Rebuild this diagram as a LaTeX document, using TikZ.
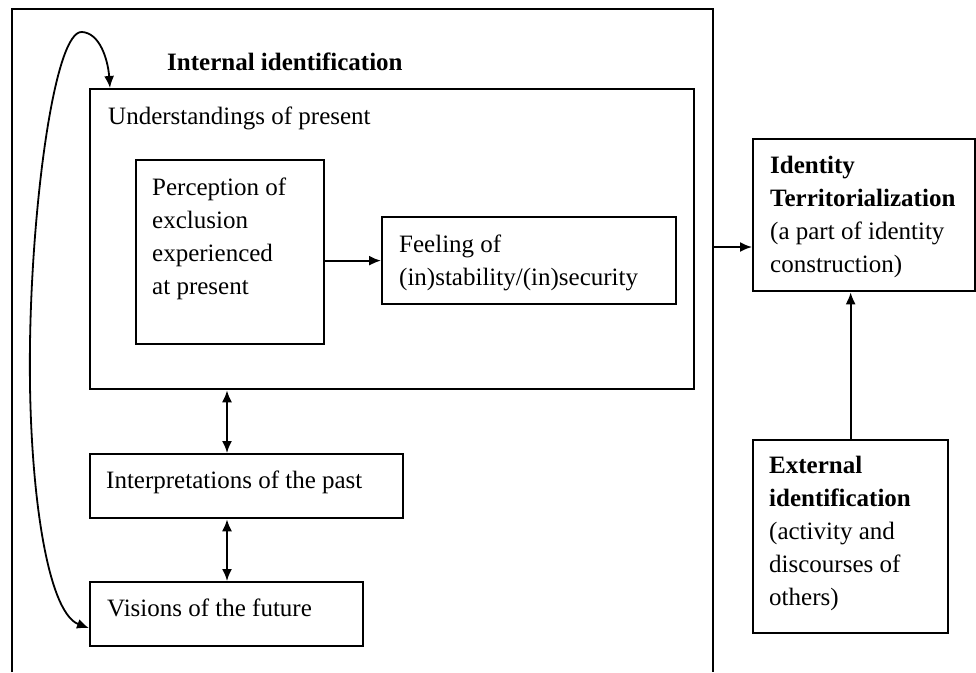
\documentclass[tikz,border=0pt]{standalone}
\usepackage{fontspec}
\setmainfont{Liberation Serif}
\usetikzlibrary{arrows.meta}
\begin{document}
\begin{tikzpicture}[x=1pt,y=-1pt,
  box/.style={draw, line width=2.3pt, inner sep=0pt, anchor=north west},
  txt/.style={inner sep=0pt, align=left, anchor=north west, font=\fontsize{25}{33}\selectfont},
  ltxt/.style={inner sep=0pt, anchor=west, font=\fontsize{25}{33}\selectfont},
  tip/.tip={Latex[length=12pt,width=10pt]},
  conn/.style={line width=1.8pt, -tip},
  dconn/.style={line width=1.8pt, tip-tip}]
\useasboundingbox (0,0) rectangle (976,672);

% outer frame (internal identification)
\coordinate (oBL) at (12,672);
\coordinate (oTL) at (12,9);
\coordinate (oTR) at (713,9);
\coordinate (oBR) at (713,672);
\draw[line width=2.3pt] (oBL) -- (oTL) -- (oTR) -- (oBR);
\node[ltxt, font=\fontsize{25}{33}\selectfont\bfseries] (title) at (167,62) {Internal identification};

% boxes
\node[box, minimum width=604pt, minimum height=300pt] (und) at (89,88) {};
\node[box, minimum width=188pt, minimum height=184pt] (per) at (135,159) {};
\node[box, minimum width=294pt, minimum height=87pt] (feel) at (381,216) {};
\node[box, minimum width=313pt, minimum height=64pt] (int) at (89,453) {};
\node[box, minimum width=273pt, minimum height=64pt] (vis) at (89,581) {};
\node[box, minimum width=222pt, minimum height=152pt] (id) at (752,138) {};
\node[box, minimum width=195pt, minimum height=193pt] (ext) at (752,439) {};

% texts
\node[ltxt] (undt) at (108,118) {Understandings of present};
\node[txt] (pert) at (152,178) {Perception of\\exclusion\\experienced\\at present};
\node[txt] (feelt) at (399,235) {Feeling of\\(in)stability/(in)security};
\node[ltxt] (intt) at (106,482) {Interpretations of the past};
\node[ltxt] (vist) at (107,608) {Visions of the future};
\node[txt] (idt) at (770,156) {\textbf{Identity}\\\textbf{Territorialization}\\(a part of identity\\construction)};
\node[txt] (extt) at (769,456) {\textbf{External}\\\textbf{identification}\\(activity and\\discourses of\\others)};

% connectors
\draw[conn] (per.east |- feel.west) -- (feel.west);
\coordinate (ax) at (227,0);
\draw[dconn] (ax |- und.south) -- (ax |- int.north);
\draw[dconn] (ax |- int.south) -- (ax |- vis.north);
\coordinate (outR) at (713,247);
\draw[conn] (outR) -- (outR -| id.west);
\draw[conn] (ext.north) -- (ext.north |- id.south);
\coordinate (undTop) at (110,0);
\draw[dconn] ([yshift=-14pt]vis.west) .. controls (46,612) and (28,480) .. (30,344)
  .. controls (32,200) and (55,30) .. (82,32)
  .. controls (100,33) and (108,60) .. (undTop |- und.north);
\end{tikzpicture}
\end{document}
